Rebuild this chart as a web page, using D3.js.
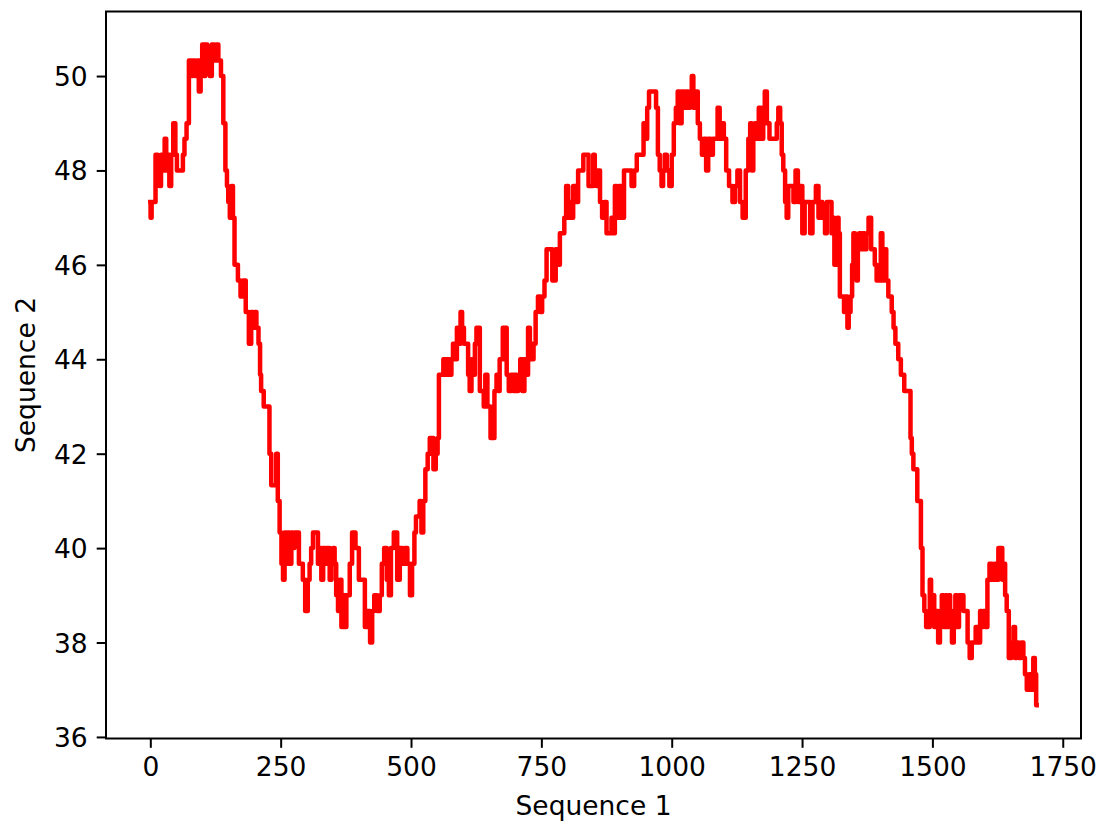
<!DOCTYPE html>
<html>
<head>
<meta charset="utf-8">
<script src="https://cdn.jsdelivr.net/npm/d3@7"></script>
<style>
html, body { margin: 0; padding: 0; background: #fff; }
svg text { font-family: "DejaVu Sans", sans-serif; fill: #000; }
</style>
</head>
<body>
<svg id="chart" width="1102" height="824"></svg>
<script>
// Sequence 1 positions (x) and Sequence 2 values (y)
const seqX = [0,1,4,8,12,16,19,22,26,29,32,35,38,42,46,50,52,61,64,67,72,76,80,83,88,91,95,98,101,104,107,112,116,120,125,128,133,138,142,146,148,151,154,157,160,163,166,170,176,180,186,192,195,198,202,205,210,211,214,221,227,230,234,240,243,246,250,253,256,259,262,266,269,272,275,278,283,287,291,294,300,304,307,310,314,320,323,326,330,333,336,339,342,346,349,352,355,358,362,365,368,371,374,378,381,384,390,397,403,410,413,419,424,427,432,438,442,446,451,456,459,464,470,477,480,486,490,496,500,504,509,510,515,518,522,525,530,534,538,541,545,550,552,555,560,564,568,571,576,579,582,587,589,594,596,600,603,608,611,614,618,621,624,627,630,634,639,640,645,648,651,654,658,662,666,669,671,675,677,682,685,690,694,698,701,704,707,712,715,720,723,726,730,733,737,741,746,749,754,758,762,768,774,781,784,787,793,795,800,803,806,809,813,819,822,829,832,838,843,848,851,854,857,861,864,869,873,877,883,886,889,893,896,901,905,912,921,925,931,935,944,948,951,955,958,968,972,975,979,982,985,988,993,998,1002,1006,1010,1013,1017,1021,1025,1029,1033,1037,1040,1043,1048,1052,1056,1060,1064,1068,1072,1077,1081,1086,1090,1094,1098,1102,1107,1113,1120,1123,1129,1133,1139,1145,1149,1152,1155,1158,1161,1164,1170,1174,1177,1180,1185,1190,1200,1203,1206,1210,1212,1216,1219,1222,1225,1232,1235,1240,1244,1248,1253,1257,1264,1267,1273,1280,1283,1286,1292,1296,1299,1305,1308,1311,1313,1317,1319,1321,1324,1329,1332,1336,1338,1341,1345,1347,1350,1353,1356,1358,1361,1364,1369,1372,1375,1380,1385,1388,1391,1395,1400,1402,1406,1409,1414,1417,1421,1423,1428,1430,1433,1436,1443,1449,1457,1459,1462,1465,1470,1472,1477,1479,1483,1486,1490,1494,1496,1499,1502,1505,1509,1513,1516,1520,1523,1526,1529,1532,1536,1539,1543,1545,1549,1553,1558,1561,1566,1569,1574,1577,1581,1585,1590,1593,1596,1599,1604,1607,1612,1617,1622,1625,1628,1633,1635,1638,1641,1644,1649,1654,1657,1660,1663,1668,1673,1676,1679,1683,1688,1692,1695,1698,1700];
const seqY = [47.33,47.0,47.33,47.33,48.33,48.0,47.67,48.33,48.0,48.67,48.0,48.33,47.67,48.33,49.0,48.33,48.0,48.0,48.33,48.67,49.0,50.33,50.0,50.33,50.0,50.33,49.67,50.33,50.67,50.0,50.67,50.33,50.0,50.67,50.33,50.67,50.33,50.0,49.0,48.0,47.67,47.33,47.0,47.67,47.0,46.0,46.0,45.67,45.33,45.67,45.0,44.33,45.0,44.67,45.0,44.67,44.33,43.67,43.33,43.0,43.0,42.0,41.33,41.33,42.0,41.0,40.33,39.67,39.33,40.33,39.67,40.33,39.67,40.33,40.0,40.33,40.33,39.67,39.67,39.33,38.67,39.33,39.67,40.0,40.33,40.33,39.67,40.0,39.33,40.0,39.67,40.0,40.0,39.33,39.67,40.0,39.67,39.0,38.67,39.33,38.33,39.0,38.33,39.0,39.0,39.67,40.33,40.0,39.33,39.33,38.33,38.67,38.0,38.67,39.0,38.67,39.0,39.67,40.0,39.33,39.0,40.0,40.33,39.33,40.0,39.67,40.0,39.67,39.0,39.67,40.33,40.67,40.67,41.0,40.33,41.0,41.67,42.0,42.33,42.33,41.67,42.0,42.33,43.67,43.67,44.0,43.67,44.0,43.67,44.0,44.33,44.0,44.67,44.33,45.0,44.67,44.33,44.33,43.67,43.33,44.0,43.67,44.33,44.67,44.67,43.33,43.33,43.0,43.67,43.0,43.0,42.33,42.33,43.33,43.67,43.33,44.0,44.0,44.67,44.67,43.67,43.33,43.67,43.33,43.67,43.33,43.67,44.0,43.33,44.0,43.67,44.67,44.33,44.0,44.33,45.0,45.33,45.0,45.33,45.67,46.33,46.33,45.67,46.33,46.0,46.67,46.67,47.0,47.67,47.0,47.33,47.0,47.67,47.33,48.0,48.0,48.33,48.33,47.67,47.67,48.33,48.0,47.67,48.0,47.33,47.0,47.33,46.67,46.67,47.0,46.67,47.67,47.0,47.67,47.0,48.0,48.0,47.67,48.0,48.33,48.33,49.0,48.67,49.33,49.67,49.67,49.33,48.33,48.0,47.67,48.0,48.33,48.0,47.67,48.33,49.0,49.33,49.67,49.0,49.67,49.33,49.67,49.33,49.67,50.0,49.33,49.67,49.0,48.67,48.33,48.67,48.0,48.67,48.33,48.67,48.67,49.33,48.67,49.0,48.67,48.0,47.67,47.33,47.67,48.0,47.33,47.0,48.0,48.67,49.0,48.0,48.67,49.0,48.67,49.33,48.67,49.0,49.67,49.0,48.67,48.67,49.0,49.33,49.0,48.33,48.0,47.33,47.0,47.67,47.67,47.33,48.0,47.33,47.67,46.67,47.33,47.33,46.67,47.33,47.67,47.0,47.33,47.0,46.67,47.33,47.33,46.67,47.0,46.0,46.0,47.0,46.67,45.33,45.33,45.0,45.33,44.67,45.0,45.33,46.0,46.67,46.33,45.67,46.33,46.67,46.33,46.67,46.33,46.67,47.0,46.33,46.33,46.0,45.67,45.67,46.67,45.67,46.33,45.67,45.33,45.33,45.0,44.67,44.33,44.33,44.0,43.67,43.33,43.33,42.33,42.0,41.67,41.67,41.0,41.0,40.0,39.0,38.67,38.33,38.33,39.33,38.67,39.0,38.33,38.67,38.0,38.67,39.0,38.33,39.0,38.33,39.0,38.67,38.0,38.33,39.0,38.33,39.0,39.0,38.67,38.67,38.0,37.67,38.0,38.0,38.33,38.0,38.67,38.33,38.67,38.33,39.33,39.67,39.33,39.67,39.33,40.0,40.0,39.33,39.67,39.0,38.67,37.67,38.0,38.33,37.67,38.0,37.67,38.0,37.67,37.33,37.0,37.33,37.0,37.67,37.33,36.67];
const xTicks = [0,250,500,750,1000,1250,1500,1750];
const yTicks = [36,38,40,42,44,46,48,50];
const xLabel = "Sequence 1";
const yLabel = "Sequence 2";

const svg = d3.select("#chart");
const L = 106, R = 1081, T = 11.5, B = 738.5;
const fs = 26.5;

const x = d3.scaleLinear().domain([-85, 1785]).range([L, R]);
const y = d3.scaleLinear().domain([35.967, 51.367]).range([B, T]);

const data = seqX.map((v, i) => [v, seqY[i]]);

// line
svg.append("path")
  .datum(data)
  .attr("fill", "none")
  .attr("stroke", "#ff0000")
  .attr("stroke-width", 4.5)
  .attr("stroke-linejoin", "round")
  .attr("stroke-linecap", "square")
  .attr("d", d3.line().curve(d3.curveStep).x(d => x(d[0])).y(d => y(d[1])));

// frame
svg.append("rect")
  .attr("x", L).attr("y", T).attr("width", R - L).attr("height", B - T)
  .attr("fill", "none").attr("stroke", "#000").attr("stroke-width", 2);

// x axis
const xAxis = d3.axisBottom(x).tickValues(xTicks).tickSize(9.3).tickPadding(9).tickFormat(d3.format("d"));
const gx = svg.append("g").attr("transform", `translate(0,${B})`).call(xAxis);
gx.select(".domain").remove();
gx.selectAll(".tick line").attr("stroke", "#000").attr("stroke-width", 2);
gx.selectAll(".tick text").attr("font-size", fs).attr("font-family", "DejaVu Sans").attr("dy", "0.72em");

// y axis
const yAxis = d3.axisLeft(y).tickValues(yTicks).tickSize(9.3).tickPadding(9).tickFormat(d3.format("d"));
const gy = svg.append("g").attr("transform", `translate(${L},0)`).call(yAxis);
gy.select(".domain").remove();
gy.selectAll(".tick line").attr("stroke", "#000").attr("stroke-width", 2);
gy.selectAll(".tick text").attr("font-size", fs).attr("font-family", "DejaVu Sans").attr("dy", "0.36em");

// axis labels
svg.append("text")
  .attr("x", (L + R) / 2).attr("y", 815)
  .attr("text-anchor", "middle").attr("font-size", fs)
  .text(xLabel);

svg.append("text")
  .attr("transform", `translate(35,${(T + B) / 2}) rotate(-90)`)
  .attr("text-anchor", "middle").attr("font-size", fs)
  .text(yLabel);
</script>
</body>
</html>
